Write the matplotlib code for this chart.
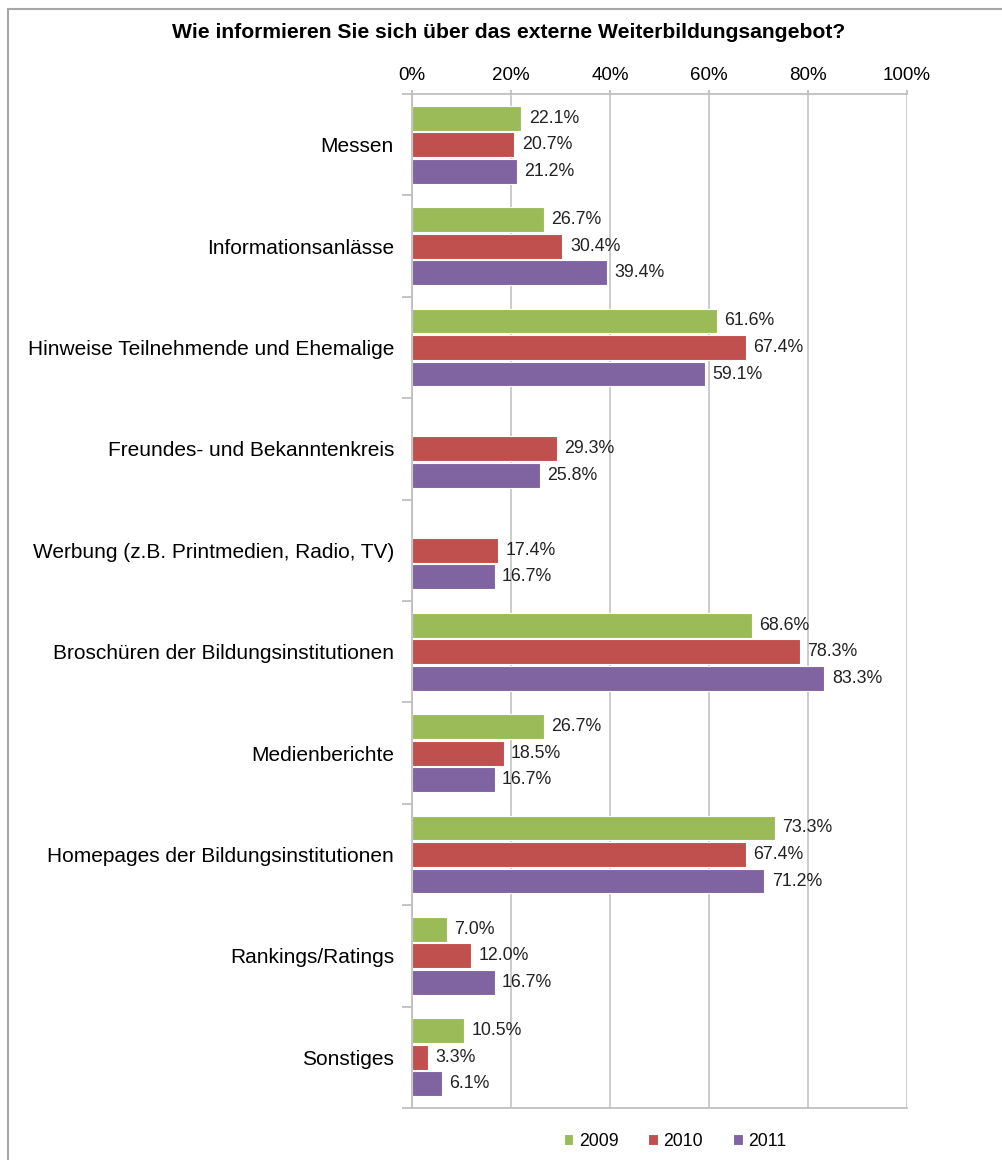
import numpy as np
import matplotlib
matplotlib.use('Agg')
import matplotlib.pyplot as plt
from matplotlib.patches import Rectangle

plt.rcParams['font.family'] = ['Liberation Sans', 'DejaVu Sans']

categories = ['Messen', 'Informationsanlässe', 'Hinweise Teilnehmende und Ehemalige',
              'Freundes- und Bekanntenkreis', 'Werbung (z.B. Printmedien, Radio, TV)',
              'Broschüren der Bildungsinstitutionen', 'Medienberichte',
              'Homepages der Bildungsinstitutionen', 'Rankings/Ratings', 'Sonstiges']
years = ['2009', '2010', '2011']
v2009 = [22.1, 26.7, 61.6, np.nan, np.nan, 68.6, 26.7, 73.3, 7.0, 10.5]
v2010 = [20.7, 30.4, 67.4, 29.3, 17.4, 78.3, 18.5, 67.4, 12.0, 3.3]
v2011 = [21.2, 39.4, 59.1, 25.8, 16.7, 83.3, 16.7, 71.2, 16.7, 6.1]
colors = ['#9BBB59', '#C0504D', '#8064A2']

fig = plt.figure(figsize=(10.02, 11.6), dpi=100)
fig.patches.append(Rectangle((8 / 1002, -0.05), 1.2, 1 - 9 / 1160 + 0.05, transform=fig.transFigure,
                             fill=False, edgecolor='#A6A6A6', linewidth=1.5))
ax = fig.add_axes([412 / 1002, 1 - 1108 / 1160, 495 / 1002, 1014 / 1160])

y = np.arange(len(categories))
h = 0.245
off = 0.262
for i, (vals, col, yr) in enumerate(zip([v2009, v2010, v2011], colors, years)):
    pos = y + (i - 1) * off
    ax.barh(pos, vals, height=h, color=col, edgecolor='white', linewidth=0.8, label=yr)
    for p, v in zip(pos, vals):
        if not np.isnan(v):
            ax.text(v + 1.5, p, f'{v:.1f}%', va='center', ha='left', fontsize=12.8, color='#222222')

ax.set_xlim(0, 100)
ax.set_ylim(len(categories) - 0.5, -0.5)
ax.set_xticks(np.arange(0, 101, 20))
ax.set_xticklabels([f'{t}%' for t in range(0, 101, 20)], fontsize=13.5)
ax.xaxis.tick_top()
ax.tick_params(axis='x', length=3, color='#BFBFBF', width=1.3, pad=4)
ax.grid(axis='x', color='#C8C8C8', linewidth=1.3)
ax.set_axisbelow(True)

ax.set_yticks(y)
ax.set_yticklabels(categories, fontsize=15)
ax.set_yticks(np.arange(-0.5, len(categories)), minor=True)
ax.tick_params(axis='y', which='major', length=0, pad=13)
ax.tick_params(axis='y', which='minor', length=7, color='#BFBFBF', width=1.3)

for s in ['top', 'bottom', 'left']:
    ax.spines[s].set_color('#BFBFBF')
    ax.spines[s].set_linewidth(1.3)
ax.spines['right'].set_visible(False)

fig.text(509 / 1002, 1 - 33 / 1160, 'Wie informieren Sie sich über das externe Weiterbildungsangebot?',
         ha='center', va='center', fontsize=15.2, fontweight='bold')

fig.legend(loc='center', bbox_to_anchor=(675 / 1002, 1 - 1141 / 1160), ncol=3, frameon=False,
           fontsize=12.7, handlelength=0.55, handleheight=0.55, handletextpad=0.3, columnspacing=1.7)

fig.savefig('out.png', dpi=100)
